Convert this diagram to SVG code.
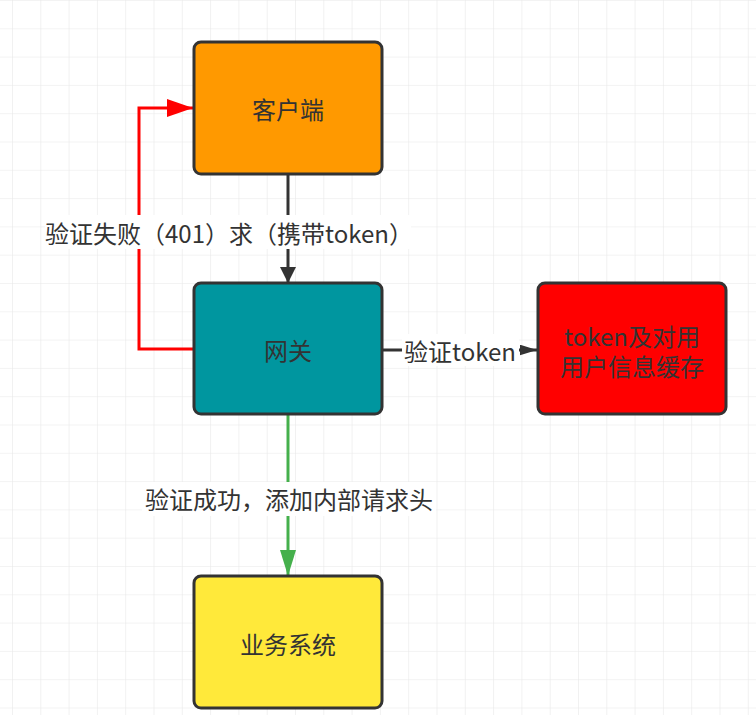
<svg xmlns="http://www.w3.org/2000/svg" width="756" height="715" viewBox="0 0 756 715">
<defs>
<pattern id="grid" patternUnits="userSpaceOnUse" x="12" y="0" width="28.3" height="28.3">
<path d="M28.3 0 L0 0 L0 28.3" fill="none" stroke="#e8e8e8" stroke-width="1.2"/>
</pattern>
<marker id="ahBlack" viewBox="0 0 16 16" refX="16" refY="8" markerUnits="userSpaceOnUse" markerWidth="32" markerHeight="16" orient="auto">
<path d="M0 0 L16 8 L0 16 Z" fill="#333"/>
</marker>
<marker id="ahBlackS" viewBox="0 0 16 10" refX="16" refY="5" markerUnits="userSpaceOnUse" markerWidth="17" markerHeight="11" orient="auto">
<path d="M0 0 L16 5 L0 10 Z" fill="#333"/>
</marker>
<marker id="ahRed" viewBox="0 0 26 18" refX="26" refY="9" markerUnits="userSpaceOnUse" markerWidth="26" markerHeight="18" orient="auto">
<path d="M0 0 L26 9 L0 18 Z" fill="#ff0000"/>
</marker>
<marker id="ahGreen" viewBox="0 0 26 16" refX="26" refY="8" markerUnits="userSpaceOnUse" markerWidth="26" markerHeight="16" orient="auto">
<path d="M0 0 L26 8 L0 16 Z" fill="#45b04c"/>
</marker>
</defs>
<style>
.node rect{stroke:#333;stroke-width:3}
.lbl{font-family:"Microsoft YaHei","Noto Sans CJK SC","Noto Sans",sans-serif;font-size:24px;fill:#333;dominant-baseline:central}
.mid{text-anchor:middle}
.bg{fill:#fff}
</style>
<rect x="0" y="0" width="756" height="715" fill="#fff"/>
<rect x="0" y="0" width="756" height="715" fill="url(#grid)"/>

<g id="connectors" fill="none">
<path id="e-client-gateway" d="M288 174 L288 283" stroke="#333" stroke-width="3" marker-end="url(#ahBlack)" fill="none"/>
<path id="e-gateway-client" d="M194 349 L139 349 L139 108 L193 108" stroke="#ff0000" stroke-width="3" marker-end="url(#ahRed)" fill="none"/>
<path id="e-gateway-cache" d="M382 350 L537 350" stroke="#333" stroke-width="3" marker-end="url(#ahBlackS)" fill="none"/>
<path id="e-gateway-biz" d="M288 414 L288 576" stroke="#45b04c" stroke-width="3" marker-end="url(#ahGreen)" fill="none"/>
<rect class="bg" x="45" y="215" width="366" height="34"/>
<text class="lbl" x="45" y="232">验证失败（401）</text>
<text class="lbl" x="229" y="232">求（携带token）</text>
<rect class="bg" x="402" y="334" width="117" height="32"/>
<text class="lbl mid" x="460" y="350">验证token</text>
<rect class="bg" x="142" y="482" width="294" height="34"/>
<text class="lbl mid" x="289" y="498">验证成功，添加内部请求头</text>
</g>

<g id="client" class="node">
<rect x="194" y="42" width="188" height="132" rx="7" fill="#ff9900"/>
<text class="lbl mid" x="288" y="108">客户端</text>
</g>
<g id="gateway" class="node">
<rect x="194" y="283" width="188" height="131" rx="7" fill="#00969f"/>
<text class="lbl mid" x="288" y="349">网关</text>
</g>
<g id="cache" class="node">
<rect x="538" y="283" width="188" height="131" rx="7" fill="#ff0000"/>
<text class="lbl mid" x="632" y="335">token及对用</text>
<text class="lbl mid" x="632" y="365">用户信息缓存</text>
</g>
<g id="biz" class="node">
<rect x="194" y="576" width="188" height="132" rx="7" fill="#ffe93a"/>
<text class="lbl mid" x="288" y="643">业务系统</text>
</g>
</svg>
